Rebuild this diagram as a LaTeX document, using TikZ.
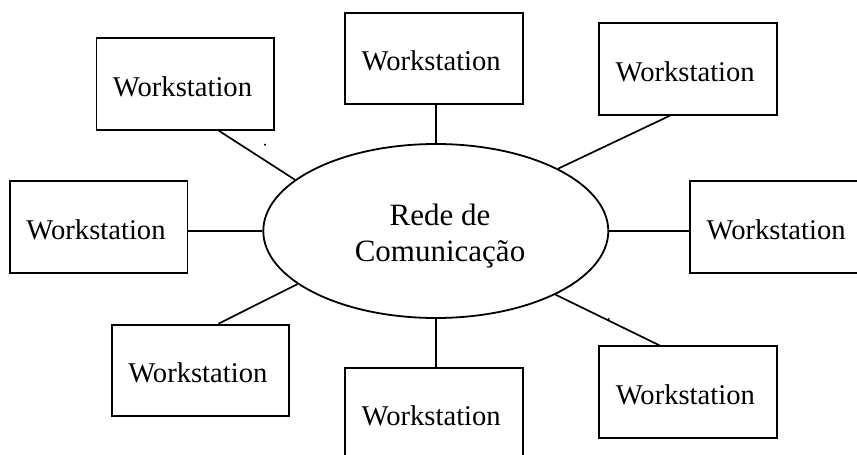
\documentclass[tikz,border=0pt]{standalone}
\usepackage{fontspec}
\setmainfont{Liberation Serif}
\usetikzlibrary{shapes.geometric,calc}
\begin{document}
\begin{tikzpicture}[x=0.5pt,y=-0.5pt,
  wsbox/.style={draw,line width=0.9pt,minimum width=88.75pt,minimum height=45.85pt,
    inner sep=0pt,text height=12.2pt,text depth=0pt,font=\fontsize{14.3}{17}\selectfont},
  link/.style={line width=0.85pt},
  netshape/.style={draw,ellipse,line width=0.9pt,minimum width=172.5pt,
    minimum height=87pt,inner sep=0pt},
  nettext/.style={align=center,inner sep=0pt,font=\fontsize{15.5}{18.35}\selectfont}]
\clip (0,0) rectangle (857,455);

% central network
\node[netshape] (net) at (435.8,231) {};
\node[nettext] (netlabel) at (440,236) {Rede de\\Comunicação};

% workstations around the network
\newcommand\wslabel{Workstation\kern2.7pt}
\node[wsbox] (ws1) at (185.2,83.9) {\wslabel};
\node[wsbox] (ws2) at (433.9,58.5) {\wslabel};
\node[wsbox] (ws3) at (687.9,68.9) {\wslabel};
\node[wsbox] (ws4) at (98.7,227.2) {\wslabel};
\node[wsbox] (ws5) at (778.8,227.2) {\wslabel};
\node[wsbox] (ws6) at (200.5,370.5) {\wslabel};
\node[wsbox] (ws7) at (433.9,413.6) {\wslabel};
\node[wsbox] (ws8) at (688,392.2) {\wslabel};

% links
\draw[link] ($(ws1.south west)!0.687!(ws1.south east)$) -- (net.160);
\draw[link] (net.north) -- (net.north |- ws2.south);
\draw[link] ($(ws3.south west)!0.4!(ws3.south east)$) -- (net.27);
\draw[link] (net.west) -- (net.west -| ws4.east);
\draw[link] (net.east) -- (net.east -| ws5.west);
\draw[link] ($(ws6.north west)!0.6!(ws6.north east)$) -- (net.201);
\draw[link] (net.south) -- (net.south |- ws7.north);
\draw[link] ($(ws8.north west)!0.342!(ws8.north east)$) -- (net.332);

% small stray marks
\fill (265,144.7) circle[radius=0.6pt];
\fill (608.7,319) circle[radius=0.6pt];
\end{tikzpicture}
\end{document}
